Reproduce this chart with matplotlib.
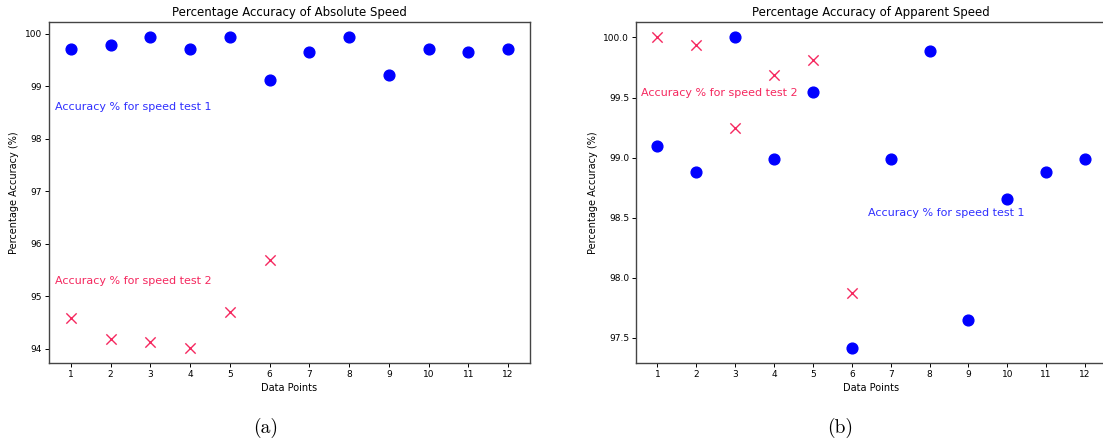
import matplotlib
matplotlib.use("Agg")
import matplotlib.pyplot as plt

# data points 1..12
points = list(range(1, 13))

# absolute speed
abs_test1 = [99.72, 99.78, 99.93, 99.72, 99.93, 99.12, 99.66, 99.93, 99.22, 99.72, 99.66, 99.72]
abs_test2 = [94.58, 94.18, 94.13, 94.02, 94.69, 95.69]

# apparent speed
app_test1 = [99.10, 98.88, 100.0, 98.99, 99.55, 97.42, 98.99, 99.89, 97.65, 98.66, 98.88, 98.99]
app_test2 = [100.0, 99.94, 99.25, 99.69, 99.81, 97.87]

red = "#f5285f"
blue = "#0000ff"

fig = plt.figure(figsize=(11.03, 4.46), dpi=100)
ax1 = fig.add_axes([0.0444, 0.186, 0.436, 0.7647])
ax2 = fig.add_axes([0.5766, 0.186, 0.4265, 0.7647])


def draw(ax, t1, t2, title, lbl1, lbl2):
    ax.scatter(points, t1, s=60, color=blue, zorder=3)
    ax.scatter(points[:len(t2)], t2, s=55, marker="x", color=red, linewidths=1.0, zorder=3)
    ax.set_title(title, fontsize=8.5, pad=4)
    ax.set_xlabel("Data Points", fontsize=7, labelpad=3)
    ax.set_ylabel("Percentage Accuracy (%)", fontsize=7, labelpad=4)
    ax.set_xticks(points)
    ax.tick_params(labelsize=6.5, length=3, width=0.7, pad=2)
    for sp in ax.spines.values():
        sp.set_color("#444444")
        sp.set_linewidth(1.0)
    ax.text(lbl1[0], lbl1[1], "Accuracy % for speed test 1", color="#3030ff",
            fontsize=8, va="center", ha="left")
    ax.text(lbl2[0], lbl2[1], "Accuracy % for speed test 2", color=red,
            fontsize=8, va="center", ha="left")


draw(ax1, abs_test1, abs_test2, "Percentage Accuracy of Absolute Speed",
     (0.6, 98.6), (0.6, 95.29))
draw(ax2, app_test1, app_test2, "Percentage Accuracy of Apparent Speed",
     (6.42, 98.54), (0.59, 99.54))
ax2.set_yticks([97.5, 98.0, 98.5, 99.0, 99.5, 100.0])

fig.text(0.241, 0.04, "(a)", fontsize=14, family="cmr10", ha="center", va="center")
fig.text(0.762, 0.04, "(b)", fontsize=14, family="cmr10", ha="center", va="center")

fig.savefig("out.png", dpi=100)
